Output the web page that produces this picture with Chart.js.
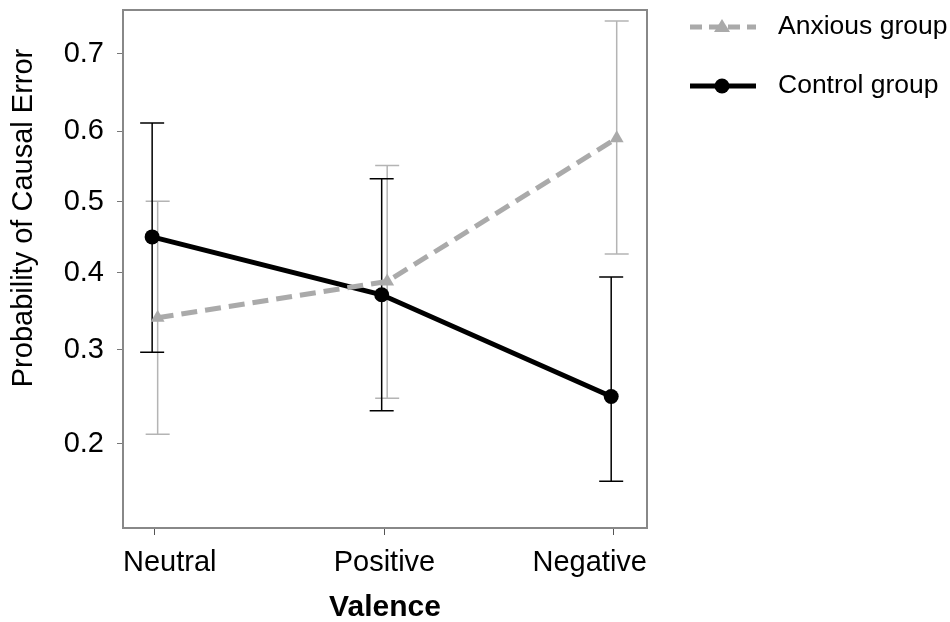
<!DOCTYPE html>
<html>
<head>
<meta charset="utf-8">
<title>Probability of Causal Error by Valence</title>
<script src="https://cdn.jsdelivr.net/npm/chart.js@4.4.1/dist/chart.umd.min.js"></script>
<style>
  html, body { margin: 0; padding: 0; background: #fff; }
  #wrap { width: 950px; height: 622px; position: relative; }
</style>
</head>
<body>
<div id="wrap"><canvas id="my-chart"></canvas></div>
<script>
'use strict';

// data
let categories = ['Neutral', 'Positive', 'Negative'];
let anxiousMean = [0.340, 0.388, 0.590];
let anxiousLow = [0.209, 0.245, 0.426];
let anxiousHigh = [0.501, 0.552, 0.738];
let controlMean = [0.450, 0.370, 0.247];
let controlLow = [0.297, 0.232, 0.168];
let controlHigh = [0.611, 0.533, 0.394];
let yTickValues = [0.2, 0.3, 0.4, 0.5, 0.6, 0.7];
let seriesNames = ['Anxious group', 'Control group'];

// y axis is on a logit scale
function logit(p) {
  return Math.log(p / (1 - p));
}
function invLogit(v) {
  return 1 / (1 + Math.exp(-v));
}

let fontFamily = '"Liberation Sans", Arial, sans-serif';
let grey = '#aaaaaa';

function makePoints(means, lows, highs, shift) {
  let pts = [];
  for (let i = 0; i < means.length; i++) {
    pts.push({ x: i + shift, y: logit(means[i]), lo: logit(lows[i]), hi: logit(highs[i]) });
  }
  return pts;
}

// error bars, drawn under the lines
let errorBars = {
  id: 'errorBars',
  beforeDatasetsDraw(chart) {
    let ctx = chart.ctx;
    let xs = chart.scales.x;
    let ys = chart.scales.y;
    chart.data.datasets.forEach(function (ds) {
      ctx.save();
      ctx.strokeStyle = ds.barColor;
      ctx.lineWidth = 1.5;
      ds.data.forEach(function (pt) {
        let x = xs.getPixelForValue(pt.x);
        let y1 = ys.getPixelForValue(pt.lo);
        let y2 = ys.getPixelForValue(pt.hi);
        ctx.beginPath();
        ctx.moveTo(x, y1);
        ctx.lineTo(x, y2);
        ctx.moveTo(x - 12, y1);
        ctx.lineTo(x + 12, y1);
        ctx.moveTo(x - 12, y2);
        ctx.lineTo(x + 12, y2);
        ctx.stroke();
      });
      ctx.restore();
    });
  }
};

// frame, category labels, y title and legend
let decorations = {
  id: 'decorations',
  afterDraw(chart) {
    let ctx = chart.ctx;
    let a = chart.chartArea;
    let xs = chart.scales.x;
    ctx.save();
    ctx.strokeStyle = '#888888';
    ctx.lineWidth = 2;
    ctx.strokeRect(a.left, a.top, a.right - a.left, a.bottom - a.top);

    // category labels: outer ones are kept inside the frame width
    ctx.fillStyle = '#000';
    ctx.font = '29px ' + fontFamily;
    ctx.textBaseline = 'middle';
    categories.forEach(function (c, i) {
      let x = xs.getPixelForValue(i);
      if (i === 0) {
        ctx.textAlign = 'left';
        x = a.left;
      } else if (i === categories.length - 1) {
        ctx.textAlign = 'right';
        x = a.right;
      } else {
        ctx.textAlign = 'center';
      }
      ctx.fillText(c, x, 563);
    });

    // y title
    ctx.font = '29px ' + fontFamily;
    ctx.textAlign = 'center';
    ctx.translate(24, 218);
    ctx.rotate(-Math.PI / 2);
    ctx.fillText('Probability of Causal Error', 0, 0);
    ctx.restore();

    // legend
    let rows = [
      { y: 27, color: grey, dash: [12, 7], marker: 'triangle' },
      { y: 86, color: '#000', dash: [], marker: 'circle' }
    ];
    rows.forEach(function (r, i) {
      ctx.save();
      ctx.strokeStyle = r.color;
      ctx.fillStyle = r.color;
      ctx.lineWidth = 5;
      ctx.setLineDash(r.dash);
      ctx.beginPath();
      ctx.moveTo(690, r.y);
      ctx.lineTo(756, r.y);
      ctx.stroke();
      ctx.setLineDash([]);
      ctx.beginPath();
      if (r.marker === 'circle') {
        ctx.arc(722, r.y, 7.5, 0, Math.PI * 2);
      } else {
        ctx.moveTo(722, r.y - 8);
        ctx.lineTo(730, r.y + 5);
        ctx.lineTo(714, r.y + 5);
        ctx.closePath();
      }
      ctx.fill();
      ctx.fillStyle = '#000';
      ctx.font = '26.5px ' + fontFamily;
      ctx.textAlign = 'left';
      ctx.textBaseline = 'middle';
      ctx.fillText(seriesNames[i], 778, r.y);
      ctx.restore();
    });
  }
};

let ctx = document.getElementById('my-chart').getContext('2d');

let chartData = {
  type: 'line',
  data: {
    datasets: [{
      label: seriesNames[0],
      data: makePoints(anxiousMean, anxiousLow, anxiousHigh, 0.012),
      borderColor: grey,
      backgroundColor: grey,
      barColor: '#b4b4b4',
      borderWidth: 5,
      borderDash: [16, 8],
      pointStyle: 'triangle',
      pointRadius: 8,
      pointBorderWidth: 0,
      pointHoverRadius: 8
    }, {
      label: seriesNames[1],
      data: makePoints(controlMean, controlLow, controlHigh, -0.012),
      borderColor: '#000',
      backgroundColor: '#000',
      barColor: '#000',
      borderWidth: 5,
      pointStyle: 'circle',
      pointRadius: 7.5,
      pointBorderWidth: 0,
      pointHoverRadius: 7.5
    }]
  },
  options: {
    responsive: true,
    maintainAspectRatio: false,
    animation: false,
    layout: { padding: { top: 10, right: 303, left: 0, bottom: 0 } },
    plugins: {
      legend: { display: false },
      tooltip: { enabled: false }
    },
    scales: {
      x: {
        type: 'linear',
        min: -0.139,
        max: 2.144,
        afterBuildTicks(scale) {
          scale.ticks = categories.map(function (c, i) { return { value: i }; });
        },
        afterFit(scale) {
          scale.height = 94;
          scale.paddingLeft = 0;
          scale.paddingRight = 0;
        },
        ticks: { display: false },
        grid: { drawOnChartArea: false, drawTicks: true, tickLength: 7, color: '#555' },
        border: { display: false },
        title: {
          display: true,
          text: 'Valence',
          color: '#000',
          font: { family: fontFamily, size: 30, weight: 'bold' },
          padding: { top: 0, bottom: -4 }
        }
      },
      y: {
        type: 'linear',
        min: -1.868,
        max: 1.099,
        afterBuildTicks(scale) {
          scale.ticks = yTickValues.map(function (p) { return { value: logit(p) }; });
        },
        afterFit(scale) {
          scale.width = 123;
          scale.paddingTop = 0;
          scale.paddingBottom = 0;
        },
        ticks: {
          color: '#000',
          font: { family: fontFamily, size: 29 },
          padding: 13,
          callback(value) { return invLogit(value).toFixed(1); }
        },
        grid: { drawOnChartArea: false, drawTicks: true, tickLength: 6, color: '#777' },
        border: { display: false }
      }
    }
  },
  plugins: [errorBars, decorations]
};

new Chart(ctx, chartData);
</script>
</body>
</html>
